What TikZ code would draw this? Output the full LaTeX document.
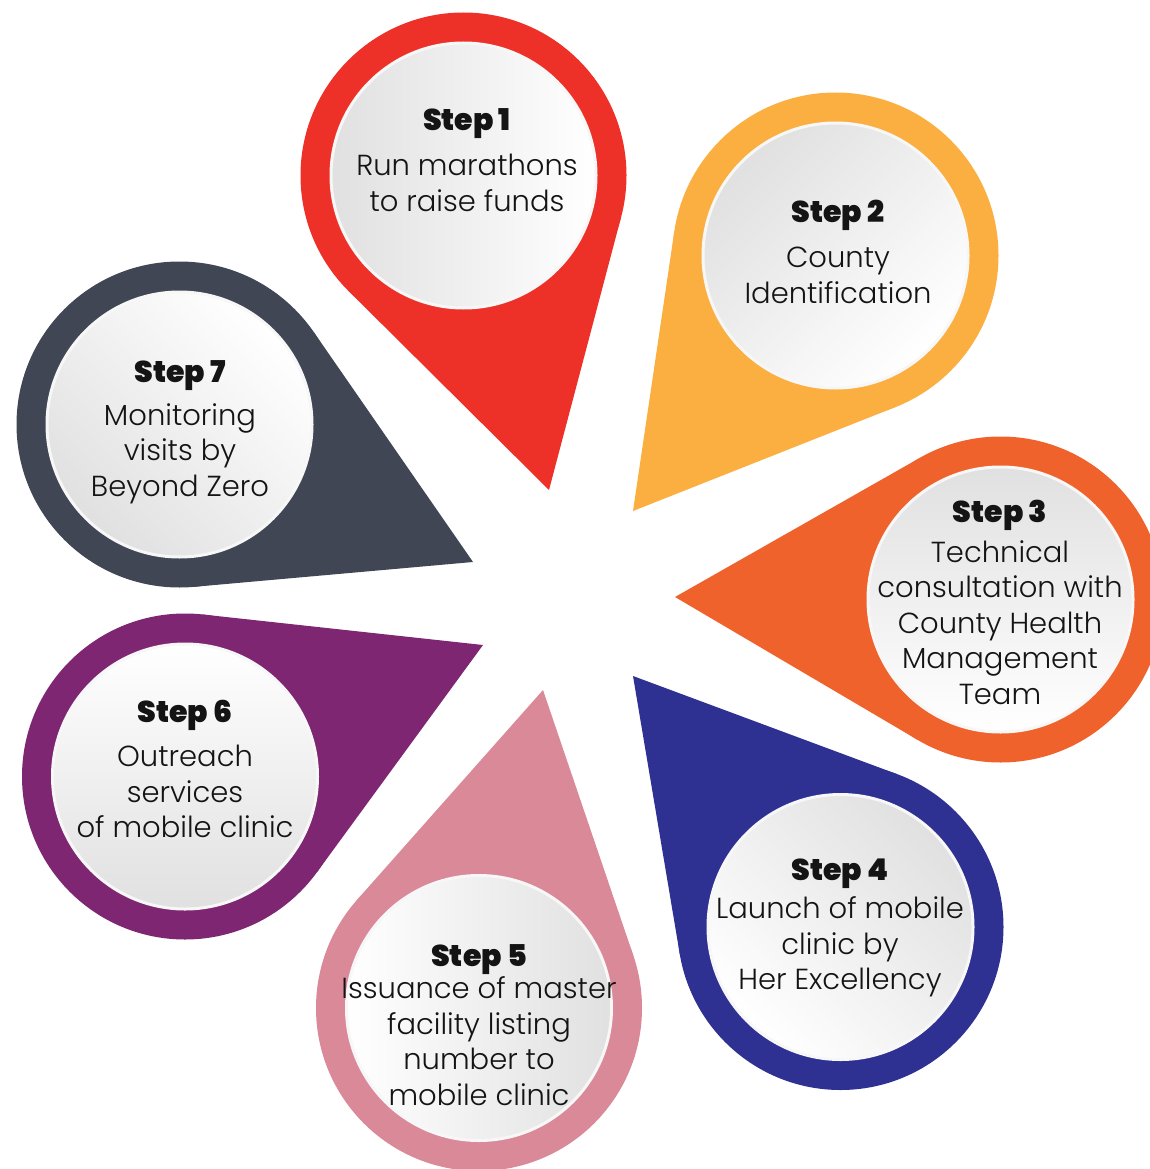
\documentclass[tikz,border=0pt]{standalone}
\usepackage{fontspec}
\setmainfont{Poppins}[UprightFont=* Light, BoldFont=* Black]
\usetikzlibrary{calc}
\definecolor{bzred}{HTML}{EE3128}
\definecolor{bzyellow}{HTML}{FBAF41}
\definecolor{bzorange}{HTML}{F0622B}
\definecolor{bzblue}{HTML}{2E3192}
\definecolor{bzpink}{HTML}{DA8998}
\definecolor{bzpurple}{HTML}{7E2672}
\definecolor{bzgrey}{HTML}{414655}
\tikzset{
	drop/.style={circle, minimum size=326pt, inner sep=0pt, outer sep=0pt},
	disc/.style={circle, minimum size=265pt, inner sep=0pt, draw=white!97!black, line width=3pt, top color=white, bottom color=black!12},
	txt/.style={align=center, text=black!92, font=\fontsize{29}{35.5}\selectfont},
	rd/.style={fill=bzred},
	yo/.style={fill=bzyellow},
	og/.style={fill=bzorange},
	bl/.style={fill=bzblue},
	pk/.style={fill=bzpink},
	pu/.style={fill=bzpurple},
	gy/.style={fill=bzgrey},
}
\newcommand{\steptitle}[2][7pt]{{\bfseries\fontsize{30}{30}\selectfont #2}\\[#1]}

\begin{document}
\begin{tikzpicture}[x=1pt, y=-1pt]
	\useasboundingbox (0,0) rectangle (1150,1169);
	\clip (0,0) rectangle (1150,1169);

	\node [drop, rd] (o1) at (463.5,175.5) {};
	\node [drop, yo] (o2) at (835.5,255.5) {};
	\node [drop, og] (o3) at (1000.5,599.5) {};
	\node [drop, bl] (o4) at (840.5,927) {};
	\node [drop, pk] (o5) at (479,1008) {};
	\node [drop, pu] (o6) at (185,776.5) {};
	\node [drop, gy] (o7) at (179.5,424.5) {};

	\coordinate (t1) at (549,490);
	\coordinate (t2) at (633,511);
	\coordinate (t3) at (675,597);
	\coordinate (t4) at (633,676);
	\coordinate (t5) at (543,690);
	\coordinate (t6) at (483,645);
	\coordinate (t7) at (473,562);

	\fill [rd] (t1) -- (tangent cs:node=o1,point={(t1)},solution=1) -- (tangent cs:node=o1,point={(t1)},solution=2) -- cycle;
	\fill [yo] (t2) -- (tangent cs:node=o2,point={(t2)},solution=1) -- (tangent cs:node=o2,point={(t2)},solution=2) -- cycle;
	\fill [og] (t3) -- (tangent cs:node=o3,point={(t3)},solution=1) -- (tangent cs:node=o3,point={(t3)},solution=2) -- cycle;
	\fill [bl] (t4) -- (tangent cs:node=o4,point={(t4)},solution=1) -- (tangent cs:node=o4,point={(t4)},solution=2) -- cycle;
	\fill [pk] (t5) -- (tangent cs:node=o5,point={(t5)},solution=1) -- (tangent cs:node=o5,point={(t5)},solution=2) -- cycle;
	\fill [pu] (t6) -- (tangent cs:node=o6,point={(t6)},solution=1) -- (tangent cs:node=o6,point={(t6)},solution=2) -- cycle;
	\fill [gy] (t7) -- (tangent cs:node=o7,point={(t7)},solution=1) -- (tangent cs:node=o7,point={(t7)},solution=2) -- cycle;

	\node [disc, shading angle=-90] (d1) at (o1) {};
	\node [disc, shading angle=-135] (d2) at (o2) {};
	\node [disc, shading angle=180] (d3) at (o3) {};
	\node [disc, shading angle=135] (d4) at (o4) {};
	\node [disc, shading angle=90] (d5) at (o5) {};
	\node [disc, shading angle=0] (d6) at (o6) {};
	\node [disc, shading angle=-45] (d7) at (o7) {};

	\node [txt] (s1) at (467,160) {\steptitle[9.5pt]{Step 1}Run marathons\\to raise funds};
	\node [txt] (s2) at (838,252) {\steptitle[9.5pt]{Step 2}County\\Identification};
	\node [txt] (s3) at (1000,602) {\steptitle[4.5pt]{Step 3}Technical\\consultation with\\County Health\\Management\\Team};
	\node [txt] (s4) at (840,928) {\steptitle[2.5pt]{Step 4}Launch of mobile\\clinic by\\Her Excellency};
	\node [txt] (s5) at (479,1025) {\steptitle[-3.5pt]{Step 5}Issuance of master\\facility listing\\number to\\mobile clinic};
	\node [txt] (s6) at (185,769) {\steptitle[8.5pt]{Step 6}Outreach\\services\\of mobile clinic};
	\node [txt] (s7) at (180,432) {\steptitle[7.5pt]{Step 7}Monitoring\\visits by\\Beyond Zero};
\end{tikzpicture}
\end{document}
